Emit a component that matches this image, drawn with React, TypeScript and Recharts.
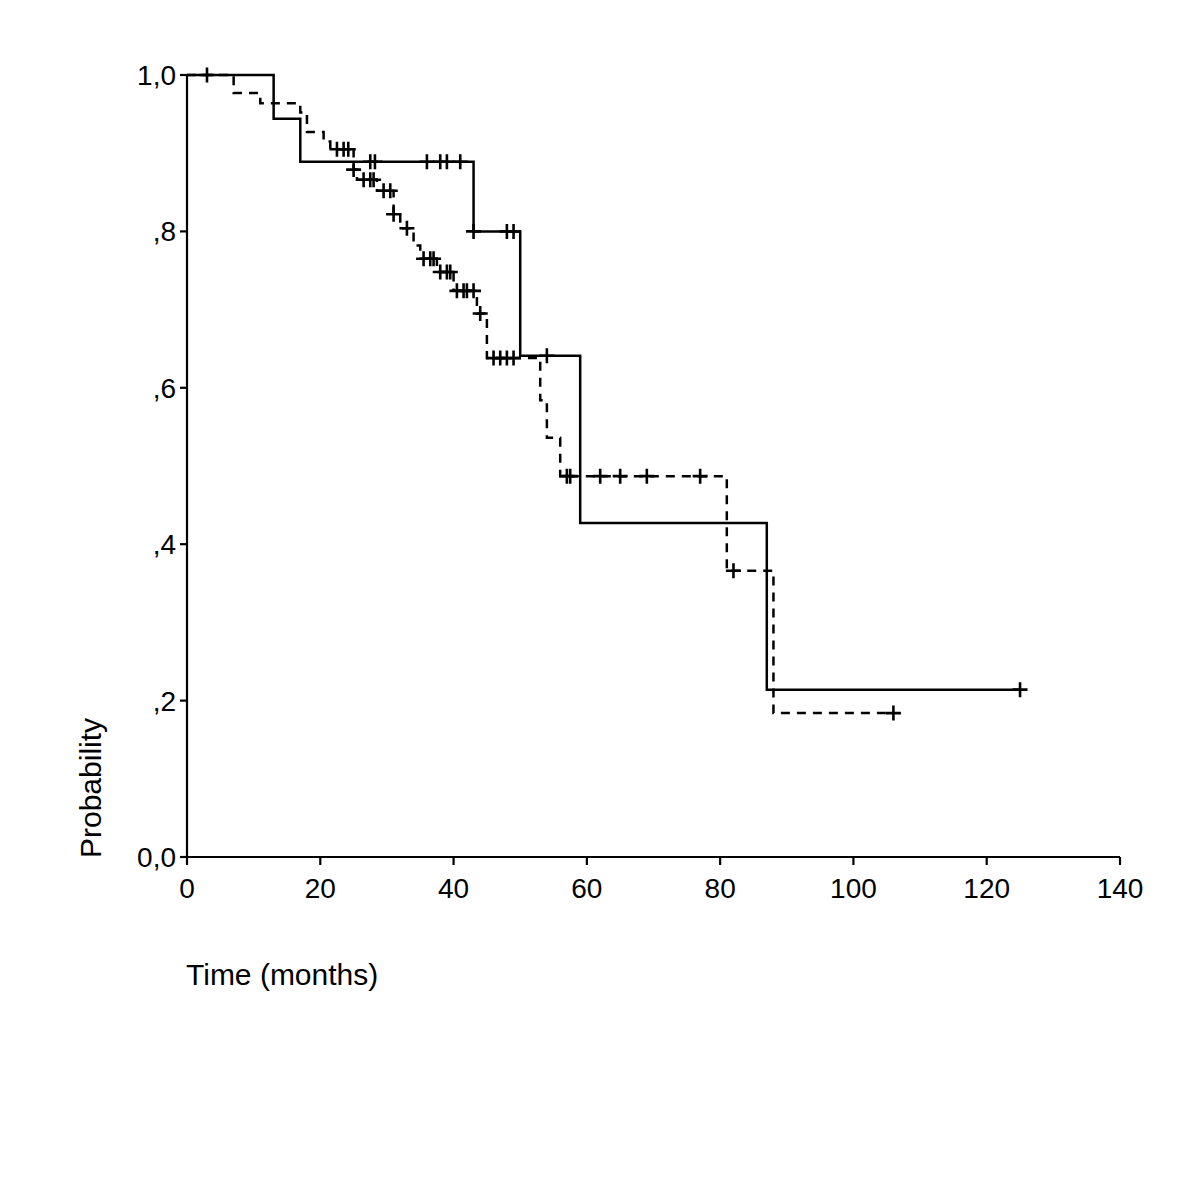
import React from 'react';
import { ComposedChart, Line, Scatter, XAxis, YAxis, Label } from 'recharts';

// solid curve: event times and survival after each step
const solidTimes = [0, 13, 17, 43, 50, 59, 87, 125];
const solidSurv = [1.0, 0.944, 0.889, 0.8, 0.641, 0.427, 0.214, 0.214];
const solidCensored = [3, 27.5, 28.2, 36, 38, 39, 41, 43, 48, 49, 54, 125];

// dashed curve
const dashedTimes = [0, 7, 11, 17, 18, 20.5, 21.5, 25, 25.5, 28.5, 31, 32, 34, 35, 37.5, 40, 43.5, 45, 53, 54, 56, 81, 88, 106];
const dashedSurv = [1.0, 0.977, 0.964, 0.952, 0.927, 0.915, 0.905, 0.879, 0.866, 0.852, 0.822, 0.804, 0.782, 0.765, 0.748, 0.724, 0.695, 0.638, 0.584, 0.536, 0.487, 0.366, 0.184, 0.184];
const dashedCensored = [22.5, 23.5, 24.2, 25, 26.5, 27.5, 28, 29.5, 30.5, 31, 33, 35.5, 36.5, 37, 38, 39, 39.5, 40.5, 41.5, 42, 43, 44, 46, 47, 48, 49, 57, 57.5, 62, 65, 69, 77, 82, 106];

const xTicks = [0, 20, 40, 60, 80, 100, 120, 140];
const yTicks = [0, 0.2, 0.4, 0.6, 0.8, 1.0];
const yTickLabels = ['0,0', ',2', ',4', ',6', ',8', '1,0'];

const FONT = '"Liberation Sans", Arial, Helvetica, sans-serif';

const toSteps = (times: number[], surv: number[]) => times.map((t, i) => ({ t, p: surv[i] }));

const censorPoints = (times: number[], surv: number[], cens: number[]) =>
  cens.map((c) => {
    let p = surv[0];
    for (let i = 0; i < times.length; i++) {
      if (times[i] <= c) p = surv[i];
    }
    return { t: c, p };
  });

const Cross = (props: any) => {
  const { cx, cy } = props;
  if (cx == null || cy == null) return null;
  return (
    <path
      d={`M${cx - 7.5},${cy}h15M${cx},${cy - 7.5}v15`}
      stroke="#000"
      strokeWidth={2.6}
      fill="none"
    />
  );
};

export default function App() {
  const solidData = toSteps(solidTimes, solidSurv);
  const dashedData = toSteps(dashedTimes, dashedSurv);
  const solidMarks = censorPoints(solidTimes, solidSurv, solidCensored);
  const dashedMarks = censorPoints(dashedTimes, dashedSurv, dashedCensored);

  const yFmt = (v: number) => {
    const idx = yTicks.findIndex((y) => Math.abs(y - v) < 1e-6);
    return idx >= 0 ? yTickLabels[idx] : String(v);
  };

  return (
    <div style={{ position: 'absolute', left: 0, top: 0, width: 1200, height: 1200, background: '#fff' }}>
      <ComposedChart
        width={1200}
        height={1200}
        margin={{ top: 75, right: 80, bottom: 313, left: 127 }}
      >
        <XAxis
          type="number"
          dataKey="t"
          domain={[0, 140]}
          ticks={xTicks}
          allowDataOverflow
          stroke="#000"
          strokeWidth={2.2}
          tickSize={8}
          tickMargin={13}
          height={30}
          tick={{ fill: '#000', fontSize: 28, fontFamily: FONT }}
        >
          <Label
            content={() => (
              <text x={186} y={985} fontSize={30} fontFamily={FONT} fill="#000">
                Time (months)
              </text>
            )}
          />
        </XAxis>
        <YAxis
          type="number"
          dataKey="p"
          domain={[0, 1]}
          ticks={yTicks}
          tickFormatter={yFmt}
          stroke="#000"
          strokeWidth={2.2}
          tickSize={7}
          tickMargin={4}
          width={60}
          tick={{ fill: '#000', fontSize: 28, fontFamily: FONT }}
        >
          <Label
            content={() => (
              <text
                x={101}
                y={858}
                transform="rotate(-90 101 858)"
                fontSize={30}
                fontFamily={FONT}
                fill="#000"
              >
                Probability
              </text>
            )}
          />
        </YAxis>
        <Line
          data={solidData}
          dataKey="p"
          type="stepAfter"
          stroke="#000"
          strokeWidth={2.5}
          dot={false}
          activeDot={false}
          isAnimationActive={false}
        />
        <Line
          data={dashedData}
          dataKey="p"
          type="stepAfter"
          stroke="#000"
          strokeWidth={2.5}
          strokeDasharray="9 7"
          dot={false}
          activeDot={false}
          isAnimationActive={false}
        />
        <Scatter data={solidMarks} dataKey="p" shape={Cross} isAnimationActive={false} />
        <Scatter data={dashedMarks} dataKey="p" shape={Cross} isAnimationActive={false} />
      </ComposedChart>
    </div>
  );
}
